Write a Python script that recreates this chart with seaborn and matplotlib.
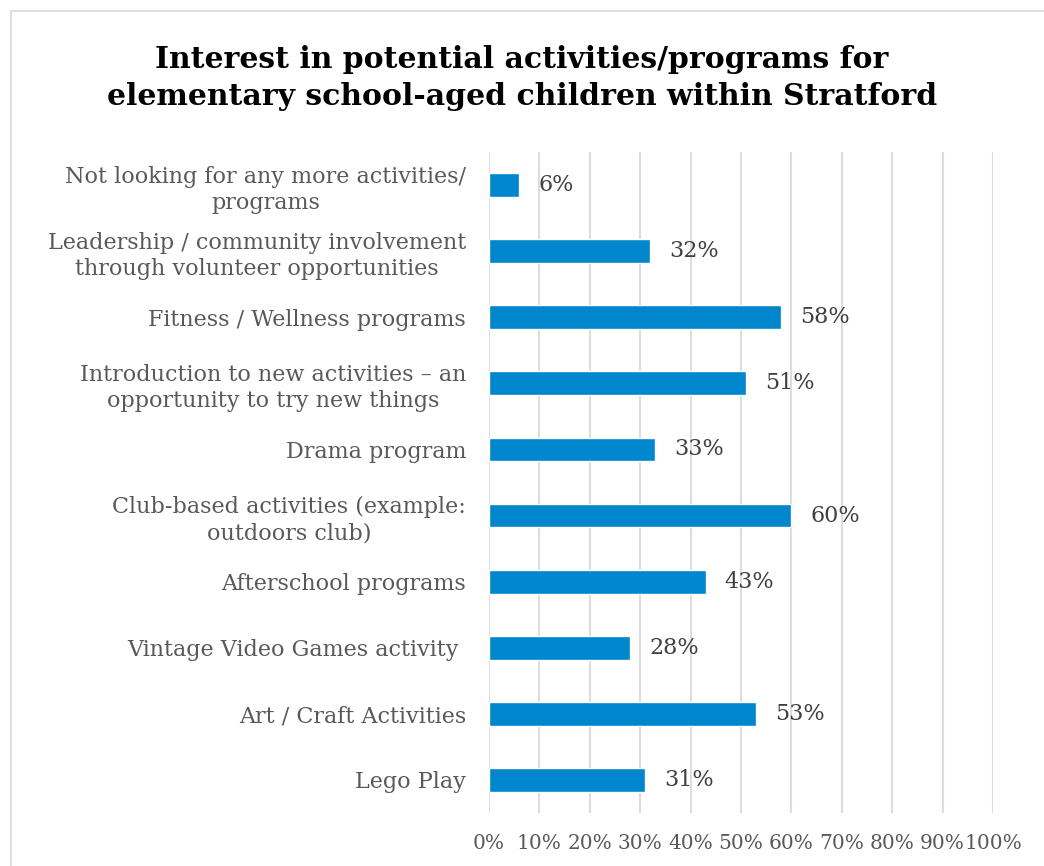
import matplotlib
matplotlib.use("Agg")
import matplotlib.pyplot as plt
import matplotlib.patches as mpatches
import seaborn as sns
import pandas as pd

categories = [
    "Not looking for any more activities/\nprograms",
    "Leadership / community involvement\nthrough volunteer opportunities",
    "Fitness / Wellness programs",
    "Introduction to new activities \u2013 an\nopportunity to try new things",
    "Drama program",
    "Club-based activities (example:\noutdoors club)",
    "Afterschool programs",
    "Vintage Video Games activity ",
    "Art / Craft Activities",
    "Lego Play",
]
values = [6, 32, 58, 51, 33, 60, 43, 28, 53, 31]
x_ticks = [0, 10, 20, 30, 40, 50, 60, 70, 80, 90, 100]
x_tick_labels = [f"{t}%" for t in x_ticks]
title = "Interest in potential activities/programs for\nelementary school-aged children within Stratford"

sns.set_theme(style="white")
plt.rcParams["font.family"] = ["DejaVu Serif"]

W, H = 1044, 866
fig = plt.figure(figsize=(W / 100, H / 100), dpi=100)
ax = fig.add_axes([489 / W, 53 / H, 504 / W, 661 / H])

df = pd.DataFrame({"category": categories, "value": values})
bar_color = "#0086CC"
sns.barplot(data=df, x="value", y="category", orient="h", color=bar_color,
            width=0.36, saturation=1, ax=ax, zorder=3)

fs = 16
ax.set_xlim(0, 100)
ax.set_ylim(len(categories) - 0.5, -0.5)
ax.set_xticks(x_ticks)
ax.set_xticklabels(x_tick_labels)
ax.set_xlabel("")
ax.set_ylabel("")
for s in ax.spines.values():
    s.set_visible(False)
ax.grid(axis="x", color="#DDDDDD", linewidth=1.5, zorder=0)
ax.grid(axis="y", visible=False)
text_color = "#595959"
ax.tick_params(axis="x", length=0, pad=15, labelsize=14.5, labelcolor=text_color)
ax.tick_params(axis="y", length=0, pad=16.5, labelsize=fs, labelcolor=text_color)
for lbl in ax.get_yticklabels():
    lbl.set_multialignment("center")
    lbl.set_linespacing(1.25)

for i, v in enumerate(values):
    ax.text(v + 3.8, i, f"{v}%", va="center", ha="left", fontsize=fs,
            color="#404040", zorder=4)

fig.text(0.5, 1 - 78 / H, title, ha="center", va="center", fontsize=21.5,
         fontweight="bold", color="black", linespacing=1.35)

# chart area frame
fig.patches.append(mpatches.Rectangle((11 / W, -0.1), 1.2, 1 - 11 / H + 0.1,
                                      transform=fig.transFigure, fill=False,
                                      edgecolor="#D9D9D9", linewidth=1.2))

fig.savefig("out.png", dpi=100)
